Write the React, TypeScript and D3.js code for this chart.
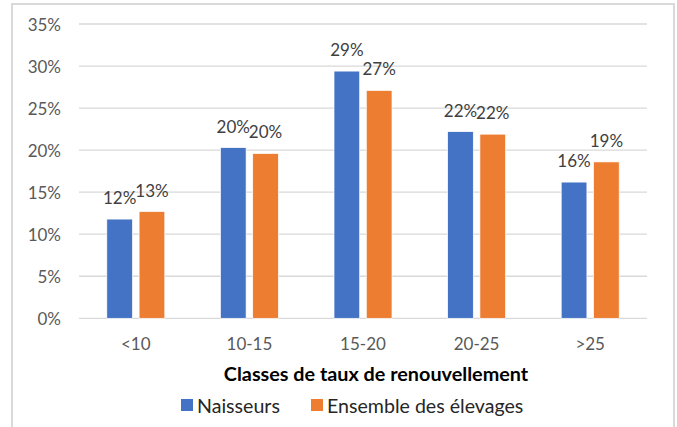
import React from "react";
import * as d3 from "d3";

const categories = ["<10", "10-15", "15-20", "20-25", ">25"];
const seriesNames = ["Naisseurs", "Ensemble des élevages"];
const naisseurs = [0.118, 0.203, 0.294, 0.222, 0.162];
const ensemble = [0.127, 0.196, 0.271, 0.219, 0.186];
const seriesColors = ["#4472C4", "#ED7D31"];
const yTicks = [0, 0.05, 0.1, 0.15, 0.2, 0.25, 0.3, 0.35];
const xTitle = "Classes de taux de renouvellement";

const W = 677;
const H = 427;
const FONT = "Lato, 'Open Sans', sans-serif";

export default function App() {
  const plotLeft = 79;
  const plotRight = 647;
  const plotTop = 24;
  const plotBottom = 318.3;

  const x0 = d3.scaleBand<string>().domain(categories).range([plotLeft, plotRight]).padding(0);
  const groupW = 58;
  const x1 = d3
    .scaleBand<string>()
    .domain(seriesNames)
    .range([(x0.bandwidth() - groupW) / 2, (x0.bandwidth() + groupW) / 2])
    .paddingInner(0.204)
    .paddingOuter(0);
  const y = d3.scaleLinear().domain([0, 0.35]).range([plotBottom, plotTop]);
  const fmt = d3.format(".0%");
  const data = [naisseurs, ensemble];

  return (
    <svg
      width={W}
      height={H}
      style={{ position: "absolute", left: 0, top: 0, display: "block", background: "#fff" }}
    >
      <rect x={12} y={4} width={662} height={440} fill="#fff" stroke="#D9D9D9" strokeWidth={2} />
      {yTicks.map((t) => (
        <g key={t}>
          <line x1={plotLeft} x2={plotRight} y1={y(t)} y2={y(t)} stroke="#D9D9D9" strokeWidth={1.3} />
          <text
            x={61}
            y={y(t)}
            textAnchor="end"
            dominantBaseline="central"
            fontFamily={FONT}
            fontSize={17}
            fill="#595959"
          >
            {fmt(t)}
          </text>
        </g>
      ))}
      {data.map((vals, si) =>
        vals.map((v, ci) => {
          const bx = (x0(categories[ci]) as number) + (x1(seriesNames[si]) as number);
          const bw = x1.bandwidth();
          return (
            <g key={`${si}-${ci}`}>
              <rect
                x={bx}
                y={y(v)}
                width={bw}
                height={plotBottom - y(v)}
                fill={seriesColors[si]}
                stroke="#fff"
                strokeWidth={0.7}
              />
              <text
                x={bx + bw / 2}
                y={y(v) - 21.5}
                textAnchor="middle"
                dominantBaseline="central"
                fontFamily={FONT}
                fontSize={17}
                fill="#404040"
              >
                {fmt(v)}
              </text>
            </g>
          );
        })
      )}
      {categories.map((c) => (
        <text
          key={c}
          x={(x0(c) as number) + x0.bandwidth() / 2}
          y={343}
          textAnchor="middle"
          dominantBaseline="central"
          fontFamily={FONT}
          fontSize={17}
          fill="#595959"
        >
          {c}
        </text>
      ))}
      <text
        x={376}
        y={372.5}
        textAnchor="middle"
        dominantBaseline="central"
        fontFamily={FONT}
        fontSize={19.8}
        fontWeight="bold"
        fill="#000"
      >
        {xTitle}
      </text>
      {seriesNames.map((s, i) => {
        const lx = i === 0 ? 181 : 311;
        return (
          <g key={s}>
            <rect x={lx} y={399} width={12} height={12} fill={seriesColors[i]} />
            <text
              x={lx + 16}
              y={405.5}
              dominantBaseline="central"
              fontFamily={FONT}
              fontSize={19.6}
              fill="#262626"
            >
              {s}
            </text>
          </g>
        );
      })}
    </svg>
  );
}
